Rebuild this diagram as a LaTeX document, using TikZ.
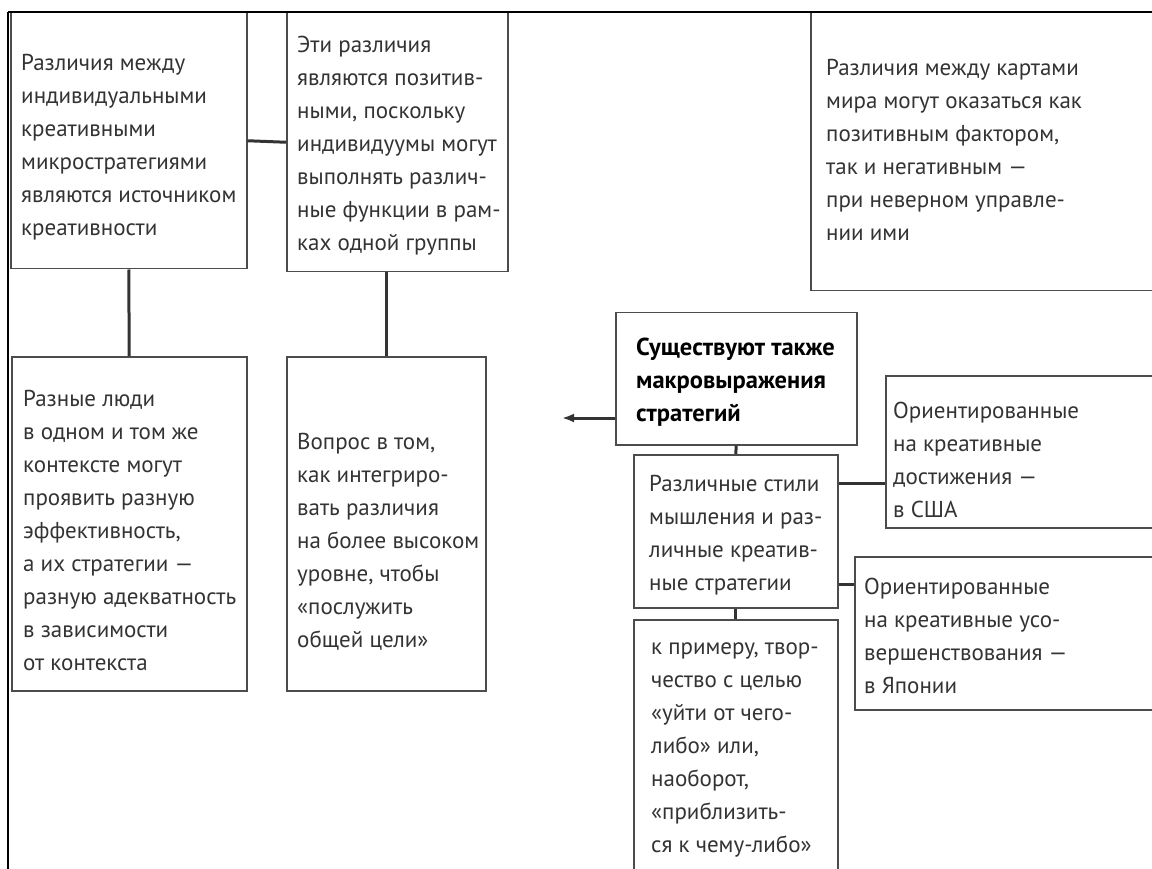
\documentclass[tikz,border=0pt]{standalone}
\usepackage{fontspec}
\setmainfont{PT Sans}
\usetikzlibrary{arrows.meta}
\begin{document}
\begin{tikzpicture}[x=1pt,y=-1pt,
  box/.style={draw=black!70,line width=1.5pt,rectangle,inner sep=0pt,anchor=north west},
  txt/.style={anchor=north west,inner sep=0pt,align=left,text=black!80,font=\fontsize{23}{33}\selectfont},
  btxt/.style={txt,text=black,font=\fontsize{24.5}{33}\selectfont\bfseries},
  link/.style={draw=black!80,line width=3pt},
  outline/.style={draw=black,line width=2.5pt}]
\useasboundingbox (0,0) rectangle (1152,869);
% boxes
\node[box,minimum width=236,minimum height=256] (a) at (10,12) {};
\node[box,minimum width=221,minimum height=259] (b) at (286,12) {};
\node[box,minimum width=355,minimum height=278] (e) at (810,12) {};
\node[box,minimum width=235,minimum height=334] (c) at (11,356) {};
\node[box,minimum width=199,minimum height=334] (d) at (286,356) {};
\node[box,minimum width=241,minimum height=132] (f) at (615,312) {};
\node[box,minimum width=204,minimum height=153] (g) at (633,454) {};
\node[box,minimum width=280,minimum height=152] (h) at (885,375) {};
\node[box,minimum width=311,minimum height=153] (i) at (854,556) {};
\node[box,minimum width=204,minimum height=261] (j) at (633,619) {};
% outer frame
\coordinate (ftl) at (8,12);
\coordinate (ftr) at (1152,12);
\coordinate (fbl) at (8,869);
\draw[outline] (ftl) -- (ftr);
\draw[outline] (ftl) -- (fbl);
% texts
\node[txt] (at) at (21,54) {Различия между\\индивидуальными\\креативными\\микростратегиями\\являются источником\\креативности};
\node[txt] (bt) at (297,36) {Эти различия\\являются позитив-\\ными, поскольку\\индивидуумы могут\\выполнять различ-\\ные функции в рам-\\ках одной группы};
\node[txt] (et) at (826,59) {Различия между картами\\мира могут оказаться как\\позитивным фактором,\\так и негативным —\\при неверном управле-\\нии ими};
\node[txt] (ct) at (23,390) {Разные люди\\в одном и том же\\контексте могут\\проявить разную\\эффективность,\\а их стратегии —\\разную адекватность\\в зависимости\\от контекста};
\node[txt] (dt) at (297,433) {Вопрос в том,\\как интегриро-\\вать различия\\на более высоком\\уровне, чтобы\\«послужить\\общей цели»};
\node[btxt] (ft) at (636,338) {Существуют также\\макровыражения\\стратегий};
\node[txt] (gt) at (649,475) {Различные стили\\мышления и раз-\\личные креатив-\\ные стратегии};
\node[txt] (ht) at (893,402) {Ориентированные\\на креативные\\достижения —\\в США};
\node[txt] (it) at (864,578) {Ориентированные\\на креативные усо-\\вершенствования —\\в Японии};
\node[txt] (jt) at (651,643) {к примеру, твор-\\чество с целью\\«уйти от чего-\\либо» или,\\наоборот,\\«приблизить-\\ся к чему-либо»};
% connectors
\draw[link] (a.east) -- (b.west);
\draw[link] (a.south) -- (c.north);
\draw[link] (d.north |- b.south) -- (d.north);
\coordinate (arr) at (562,418);
\draw[link,-{Latex[length=12pt,width=9pt]}] (f.west |- arr) -- (arr);
\draw[link] (f.south) -- (g.north);
\draw[link] ([yshift=-29pt]g.north east) coordinate (gh) -- (gh -| h.west);
\draw[link] ([yshift=24pt]g.south east) coordinate (gi) -- (gi -| i.west);
\draw[link] (g.south) -- (j.north);
\end{tikzpicture}
\end{document}
